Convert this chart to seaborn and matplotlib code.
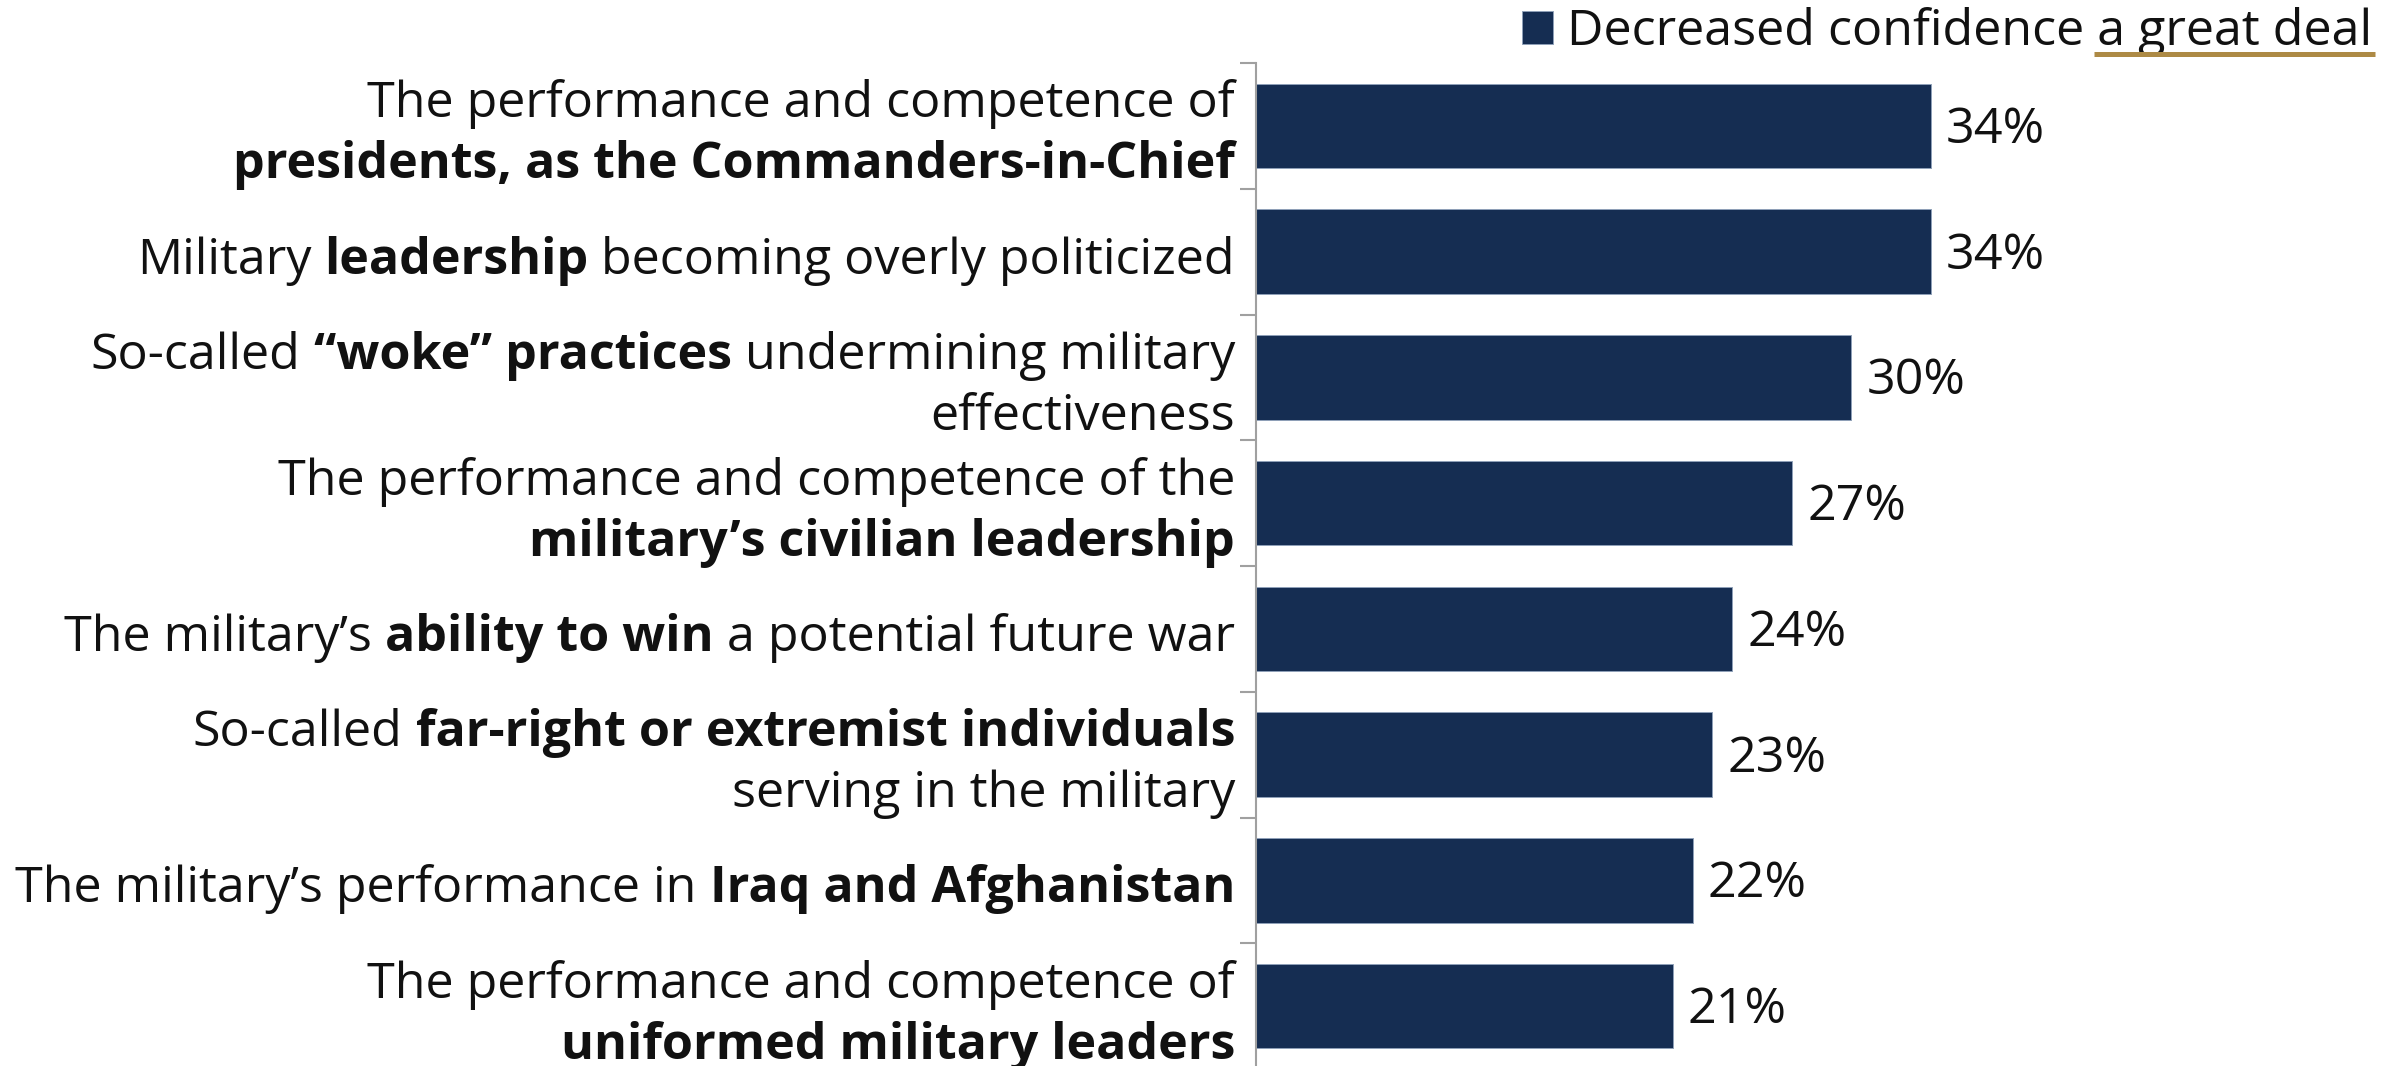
import matplotlib
matplotlib.use("Agg")
import matplotlib.pyplot as plt
import matplotlib.transforms as mtransforms
import seaborn as sns
import pandas as pd

# ---------------- data ----------------
categories = [
    "The performance and competence of presidents, as the Commanders-in-Chief",
    "Military leadership becoming overly politicized",
    "So-called “woke” practices undermining military effectiveness",
    "The performance and competence of the military’s civilian leadership",
    "The military’s ability to win a potential future war",
    "So-called far-right or extremist individuals serving in the military",
    "The military’s performance in Iraq and Afghanistan",
    "The performance and competence of uniformed military leaders",
]
values = [34, 34, 30, 27, 24, 23, 22, 21]
value_labels = [f"{v}%" for v in values]
series_name = "Decreased confidence a great deal"
underlined_part = "a great deal"

# label lines: list of (text, bold) segments per line
label_lines = [
    [[("The performance and competence of", False)],
     [("presidents, as the Commanders-in-Chief", True)]],
    [[("Military ", False), ("leadership", True), (" becoming overly politicized", False)]],
    [[("So-called ", False), ("“woke” practices", True), (" undermining military", False)],
     [("effectiveness", False)]],
    [[("The performance and competence of the", False)],
     [("military’s civilian leadership", True)]],
    [[("The military’s ", False), ("ability to win", True), (" a potential future war", False)]],
    [[("So-called ", False), ("far-right or extremist individuals", True)],
     [("serving in the military", False)]],
    [[("The military’s performance in ", False), ("Iraq and Afghanistan", True)]],
    [[("The performance and competence of", False)],
     [("uniformed military leaders", True)]],
]

BAR_COLOR = "#152D52"
GOLD = "#AD8A45"
FS = 36.2

sns.set_theme(style="white")
plt.rcParams["font.family"] = ["Open Sans", "DejaVu Sans"]

W, H = 2399, 1066
fig = plt.figure(figsize=(W / 100, H / 100), dpi=100)
ax_left = 1256 / W
ax_top = 1 - 63 / H
ax_bottom = -3 / H
ax = fig.add_axes([ax_left, ax_bottom, 1 - ax_left, ax_top - ax_bottom])

df = pd.DataFrame({"category": categories, "value": values, "series": series_name})
sns.barplot(data=df, y="category", x="value", hue="series", palette=[BAR_COLOR],
            saturation=1, width=0.67, orient="h", ax=ax, legend=True,
            edgecolor="#8FA0B8", linewidth=0.7)

ax.set_xlim(0, 57.6)
ax.set_ylim(7.5, -0.5)
ax.set_xlabel("")
ax.set_ylabel("")
ax.set_xticks([])
for s in ["top", "right", "bottom"]:
    ax.spines[s].set_visible(False)
ax.spines["left"].set_color("#A0A0A0")
ax.spines["left"].set_linewidth(1.5)
ax.set_yticks([i - 0.5 for i in range(len(categories) + 1)])
ax.set_yticklabels([])
ax.tick_params(axis="y", length=11.5, width=1.5, color="#A0A0A0", left=True)

anns = ax.bar_label(ax.containers[0], labels=value_labels, padding=11, fontsize=FS, color="#111111")
for a in anns:
    a.xyann = (a.xyann[0], a.xyann[1] - 3)

# legend
sns.move_legend(ax, loc="center right", bbox_to_anchor=(2372 / W, 1 - 32 / H),
                bbox_transform=fig.transFigure, frameon=False, title=None,
                fontsize=FS, handlelength=0.62, handleheight=0.62,
                handletextpad=0.28, borderpad=0, borderaxespad=0)

fig.canvas.draw()
renderer = fig.canvas.get_renderer()
ident = mtransforms.IdentityTransform()

def text_width(s, weight):
    t = fig.text(0, 0, s, fontsize=FS, weight=weight, transform=ident)
    w = t.get_window_extent(renderer).width
    t.remove()
    return w

space_w = {False: text_width("a a", "normal") - text_width("aa", "normal"),
           True: text_width("a a", "bold") - text_width("aa", "bold")}

LINE_SP = 61
BASE_OFF = 22
for i, lines in enumerate(label_lines):
    x0, yc = ax.transData.transform((0, i))
    xr = x0 - 21
    n = len(lines)
    for k, segs in enumerate(lines):
        yb = yc + ((n - 1) / 2 - k) * LINE_SP - BASE_OFF
        x = xr
        for txt, bold in reversed(segs):
            trail = txt.endswith(" ")
            lead = txt.startswith(" ")
            if trail:
                x -= space_w[bold]
            t = fig.text(x, yb, txt.strip(), fontsize=FS, weight="bold" if bold else "normal",
                         ha="right", va="baseline", color="#111111", transform=ident)
            x = t.get_window_extent(renderer).x0
            if lead:
                x -= space_w[bold]

# underline under "a great deal" in legend
leg = ax.get_legend()
fig.canvas.draw()
lt = leg.get_texts()[0]
lt.set_color("#111111")
bb = lt.get_window_extent(renderer)
uw = text_width(underlined_part, "normal")
yline = H - 54
fig.add_artist(plt.Line2D([bb.x1 - uw - 3, bb.x1 + 3], [yline, yline], transform=ident,
                          color=GOLD, linewidth=3.6, solid_capstyle="butt"))

fig.savefig("out.png", dpi=100)
